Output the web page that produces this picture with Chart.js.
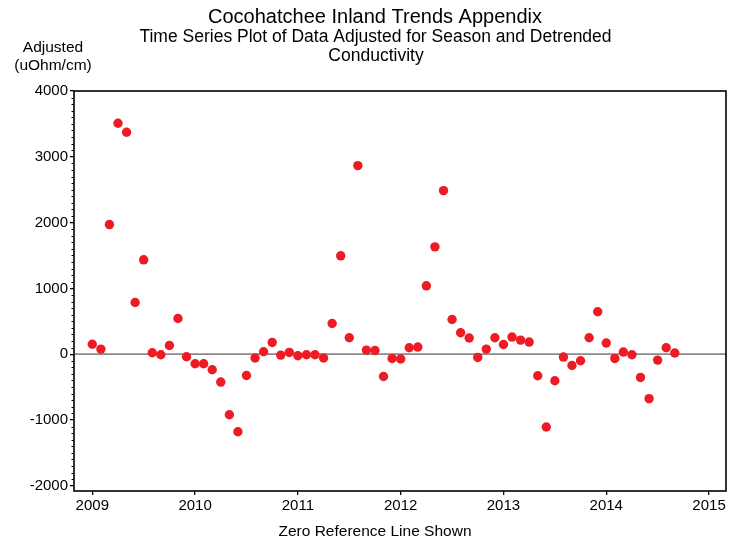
<!DOCTYPE html>
<html>
<head>
<meta charset="utf-8">
<script src="https://cdn.jsdelivr.net/npm/chart.js@4/dist/chart.umd.min.js"></script>
<style>
  html, body { margin: 0; padding: 0; background: #ffffff; }
  #wrap { width: 746px; height: 546px; position: relative; }
</style>
</head>
<body>
<div id="wrap"><canvas id="c" width="746" height="546"></canvas></div>
<script>
// ---- Data ----
const months = [
  '2009-01','2009-02','2009-03','2009-04','2009-05','2009-06','2009-07','2009-08','2009-09','2009-10','2009-11','2009-12',
  '2010-01','2010-02','2010-03','2010-04','2010-05','2010-06','2010-07','2010-08','2010-09','2010-10','2010-11','2010-12',
  '2011-01','2011-02','2011-03','2011-04','2011-05','2011-06','2011-07','2011-08','2011-09','2011-10','2011-11','2011-12',
  '2012-01','2012-02','2012-03','2012-04','2012-05','2012-06','2012-07','2012-08','2012-09','2012-10','2012-11','2012-12',
  '2013-01','2013-02','2013-03','2013-04','2013-05','2013-06','2013-07','2013-08','2013-09','2013-10','2013-11','2013-12',
  '2014-01','2014-02','2014-03','2014-04','2014-05','2014-06','2014-07','2014-08','2014-09'
];
const adjustedConductivity = [
  150, 77, 1970, 3510, 3373, 785, 1434, 21, -9, 132, 542, -39,
  -146, -146, -237, -424, -921, -1179, -324, -59, 36, 178, -14, 26,
  -24, -9, -9, -59, 466, 1495, 249, 2866, 62, 56, -339, -65,
  -74, 97, 108, 1039, 1631, 2486, 527, 325, 245, -50, 77, 249,
  147, 260, 214, 184, -328, -1107, -404, -44, -172, -100, 249, 644,
  169, -65, 32, -9, -354, -677, -90, 97, 17
];
const xTickLabels = [2009, 2010, 2011, 2012, 2013, 2014, 2015];
const yTickLabels = [-2000, -1000, 0, 1000, 2000, 3000, 4000];
const referenceValue = 0;

const titleText = 'Cocohatchee Inland Trends Appendix';
const subtitleLines = ['Time Series Plot of Data Adjusted for Season and Detrended', 'Conductivity'];
const yUnitLines = ['Adjusted', '(uOhm/cm)'];
const xTitleText = 'Zero Reference Line Shown';

// ---- Axis ranges ----
const X_MIN = 2008.822, X_MAX = 2015.165;
const Y_MIN = -2080, Y_MAX = 4000;
const MINOR_STEP = 100;

function toYear(m) {
  const [y, mo] = m.split('-').map(Number);
  return y + (mo - 1) / 12;
}

const FONT = '"Liberation Sans", Arial, Helvetica, sans-serif';

const decorPlugin = {
  id: 'decor',
  beforeDatasetsDraw(chart) {
    const { ctx, chartArea: a, scales } = chart;
    const y0 = scales.y.getPixelForValue(referenceValue);
    ctx.save();
    ctx.strokeStyle = '#8a8a8a';
    ctx.lineWidth = 1.6;
    ctx.beginPath();
    ctx.moveTo(a.left, y0);
    ctx.lineTo(a.right, y0);
    ctx.stroke();
    ctx.restore();
  },
  afterDraw(chart) {
    const { ctx, chartArea: a, scales } = chart;
    ctx.save();
    // frame
    ctx.strokeStyle = '#000';
    ctx.lineWidth = 1.6;
    ctx.strokeRect(a.left, a.top, a.right - a.left, a.bottom - a.top);
    // minor ticks on y axis
    ctx.lineWidth = 1.2;
    ctx.beginPath();
    for (let v = Math.ceil(Y_MIN / MINOR_STEP) * MINOR_STEP; v <= Y_MAX; v += MINOR_STEP) {
      if (v % 1000 === 0) continue;
      const py = Math.round(scales.y.getPixelForValue(v)) + 0.5;
      ctx.moveTo(a.left - 2.5, py);
      ctx.lineTo(a.left, py);
    }
    ctx.stroke();
    // texts
    ctx.fillStyle = '#000';
    ctx.textAlign = 'center';
    ctx.textBaseline = 'middle';
    ctx.font = '20px ' + FONT;
    ctx.fillText(titleText, 375, 17);
    ctx.font = '17.5px ' + FONT;
    ctx.fillText(subtitleLines[0], 375.5, 37);
    ctx.fillText(subtitleLines[1], 376, 56);
    ctx.font = '15.5px ' + FONT;
    ctx.fillText(yUnitLines[0], 53, 48);
    ctx.fillText(yUnitLines[1], 53, 66);
    ctx.fillText(xTitleText, 375, 532);
    ctx.restore();
  }
};

new Chart(document.getElementById('c'), {
  type: 'scatter',
  data: {
    datasets: [{
      data: months.map((m, i) => ({ x: toYear(m), y: adjustedConductivity[i] })),
      backgroundColor: '#ed1c24',
      borderWidth: 0,
      pointRadius: 4.7,
      pointHoverRadius: 4.7
    }]
  },
  options: {
    responsive: false,
    animation: false,
    events: [],
    layout: { padding: { top: 91, right: 20, left: 0, bottom: 0 } },
    plugins: { legend: { display: false }, tooltip: { enabled: false }, title: { display: false } },
    scales: {
      x: {
        type: 'linear',
        min: X_MIN, max: X_MAX,
        afterFit(s) { s.height = 55; },
        afterBuildTicks(s) { s.ticks = xTickLabels.map(v => ({ value: v })); },
        ticks: { callback: v => String(v), font: { family: FONT, size: 15 }, color: '#000', padding: 2, maxRotation: 0, autoSkip: false },
        grid: { drawOnChartArea: false, drawTicks: true, tickLength: 4, color: '#000', lineWidth: 1.3 },
        border: { display: false }
      },
      y: {
        type: 'linear',
        min: Y_MIN, max: Y_MAX,
        afterFit(s) { s.width = 74; },
        afterBuildTicks(s) { s.ticks = yTickLabels.map(v => ({ value: v })); },
        ticks: { callback: v => String(v), font: { family: FONT, size: 15 }, color: '#000', padding: 2, autoSkip: false },
        grid: { drawOnChartArea: false, drawTicks: true, tickLength: 4, color: '#000', lineWidth: 1.3 },
        border: { display: false }
      }
    }
  },
  plugins: [decorPlugin]
});
</script>
</body>
</html>
